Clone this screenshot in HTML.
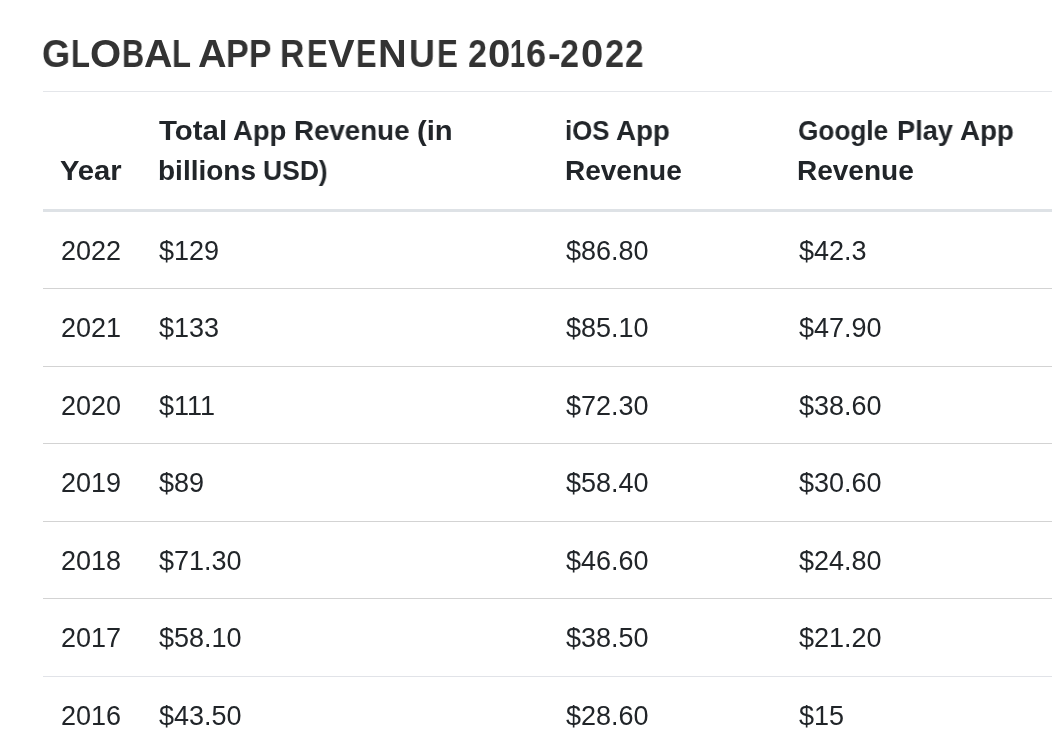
<!DOCTYPE html>
<html><head><meta charset="utf-8">
<style>
html,body{margin:0;padding:0;background:#fff;width:1052px;height:756px;overflow:hidden;position:relative;font-family:"Liberation Sans",sans-serif;}
.t{position:absolute;white-space:nowrap;line-height:30px;transform-origin:0 0;will-change:transform;}
.ttl{position:absolute;will-change:transform;top:35px;font-weight:bold;font-size:38px;color:#333;line-height:38px;white-space:nowrap;transform-origin:0 0;}
.ln{position:absolute;left:43px;width:1009px;height:1px;background:#d3d3d3;}
.h{font-weight:bold;font-size:28px;color:#212529;}
.b{font-size:27px;color:#212529;}
</style></head><body>
<div class="ttl" style="left:42.30px;transform:scaleX(0.952)">G</div>
<div class="ttl" style="left:71.35px;transform:scaleX(0.816)">L</div>
<div class="ttl" style="left:89.59px;transform:scaleX(1.054)">O</div>
<div class="ttl" style="left:122.07px;transform:scaleX(0.809)">B</div>
<div class="ttl" style="left:143.96px;transform:scaleX(1.036)">A</div>
<div class="ttl" style="left:171.84px;transform:scaleX(0.821)">L</div>
<div class="ttl" style="left:197.76px;transform:scaleX(1.040)">A</div>
<div class="ttl" style="left:225.81px;transform:scaleX(0.895)">P</div>
<div class="ttl" style="left:249.04px;transform:scaleX(0.886)">P</div>
<div class="ttl" style="left:280.44px;transform:scaleX(0.887)">R</div>
<div class="ttl" style="left:307.26px;transform:scaleX(0.814)">E</div>
<div class="ttl" style="left:328.20px;transform:scaleX(1.048)">V</div>
<div class="ttl" style="left:355.67px;transform:scaleX(0.810)">E</div>
<div class="ttl" style="left:377.76px;transform:scaleX(1.045)">N</div>
<div class="ttl" style="left:409.01px;transform:scaleX(0.943)">U</div>
<div class="ttl" style="left:436.74px;transform:scaleX(0.819)">E</div>
<div class="ttl" style="left:467.50px;transform:scaleX(0.900)">2</div>
<div class="ttl" style="left:488.44px;transform:scaleX(1.058)">0</div>
<div class="ttl" style="left:509.63px;transform:scaleX(0.720)">1</div>
<div class="ttl" style="left:526.05px;transform:scaleX(0.953)">6</div>
<div class="ttl" style="left:547.80px;transform:scaleX(1.000)">-</div>
<div class="ttl" style="left:560.30px;transform:scaleX(0.900)">2</div>
<div class="ttl" style="left:581.45px;transform:scaleX(1.053)">0</div>
<div class="ttl" style="left:604.89px;transform:scaleX(0.905)">2</div>
<div class="ttl" style="left:624.93px;transform:scaleX(0.874)">2</div>

<div class="ln" style="top:91px;background:#e4e6ea"></div>
<div class="t h" style="left:59.56px;top:156px;transform:scaleX(1.043)">Year</div>
<div class="t h" style="left:159.10px;top:116px;transform:scaleX(1.051)">Total</div>
<div class="t h" style="left:233.42px;top:116px;transform:scaleX(0.981)">App</div>
<div class="t h" style="left:294.12px;top:116px;transform:scaleX(0.989)">Revenue</div>
<div class="t h" style="left:417.46px;top:116px;transform:scaleX(1.042)">(in</div>
<div class="t h" style="left:157.90px;top:156px">billions</div>
<div class="t h" style="left:262.81px;top:156px;transform:scaleX(0.945)">USD)</div>
<div class="t h" style="left:564.86px;top:116px;transform:scaleX(0.922)">iOS</div>
<div class="t h" style="left:615.91px;top:116px;transform:scaleX(0.990)">App</div>
<div class="t h" style="left:564.70px;top:156px">Revenue</div>
<div class="t h" style="left:798.16px;top:116px;transform:scaleX(0.935)">Google</div>
<div class="t h" style="left:897.06px;top:116px;transform:scaleX(0.971)">Play</div>
<div class="t h" style="left:960.01px;top:116px;transform:scaleX(0.990)">App</div>
<div class="t h" style="left:797.10px;top:156px">Revenue</div>
<div class="ln" style="top:209px;height:3px;background:#dee2e6"></div>
<div class="ln" style="top:288px"></div>
<div class="ln" style="top:366px"></div>
<div class="ln" style="top:443px"></div>
<div class="ln" style="top:521px"></div>
<div class="ln" style="top:598px"></div>
<div class="ln" style="top:676px;background:#e1e3e8"></div>

<div class="t b" style="left:61px;top:236px">2022</div>
<div class="t b" style="left:159px;top:236px">$129</div>
<div class="t b" style="left:566px;top:236px">$86.80</div>
<div class="t b" style="left:799px;top:236px">$42.3</div>

<div class="t b" style="left:61px;top:313px">2021</div>
<div class="t b" style="left:159px;top:313px">$133</div>
<div class="t b" style="left:566px;top:313px">$85.10</div>
<div class="t b" style="left:799px;top:313px">$47.90</div>

<div class="t b" style="left:61px;top:391px">2020</div>
<div class="t b" style="left:159px;top:391px">$111</div>
<div class="t b" style="left:566px;top:391px">$72.30</div>
<div class="t b" style="left:799px;top:391px">$38.60</div>

<div class="t b" style="left:61px;top:468px">2019</div>
<div class="t b" style="left:159px;top:468px">$89</div>
<div class="t b" style="left:566px;top:468px">$58.40</div>
<div class="t b" style="left:799px;top:468px">$30.60</div>

<div class="t b" style="left:61px;top:546px">2018</div>
<div class="t b" style="left:159px;top:546px">$71.30</div>
<div class="t b" style="left:566px;top:546px">$46.60</div>
<div class="t b" style="left:799px;top:546px">$24.80</div>

<div class="t b" style="left:61px;top:623px">2017</div>
<div class="t b" style="left:159px;top:623px">$58.10</div>
<div class="t b" style="left:566px;top:623px">$38.50</div>
<div class="t b" style="left:799px;top:623px">$21.20</div>

<div class="t b" style="left:61px;top:701px">2016</div>
<div class="t b" style="left:159px;top:701px">$43.50</div>
<div class="t b" style="left:566px;top:701px">$28.60</div>
<div class="t b" style="left:799px;top:701px">$15</div>

</body></html>
